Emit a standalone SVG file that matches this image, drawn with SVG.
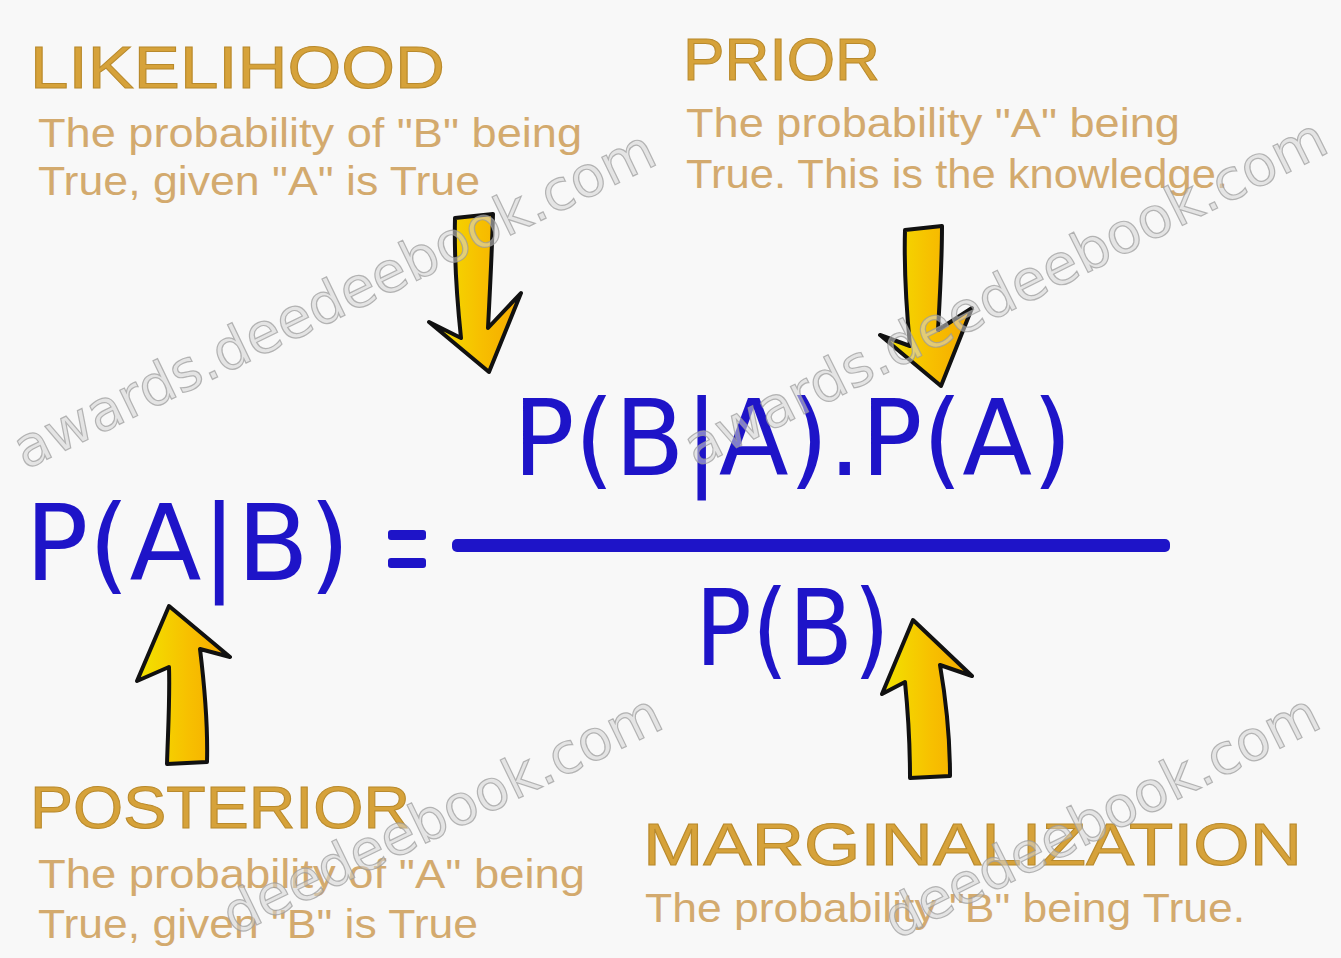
<svg xmlns="http://www.w3.org/2000/svg" width="1341" height="958" viewBox="0 0 1341 958">
  <defs>
    <linearGradient id="arrowFill" x1="0" y1="0" x2="1" y2="0">
      <stop offset="0" stop-color="#f2e400"/>
      <stop offset="0.55" stop-color="#f7c000"/>
      <stop offset="1" stop-color="#f5a800"/>
    </linearGradient>
  </defs>
  <style>
    .head { font-family: "Liberation Sans", "DejaVu Sans", sans-serif; font-size: 60px; fill: #d6a23a; stroke: #b98a2c; stroke-width: 1; }
    .body { font-family: "Liberation Sans", "DejaVu Sans", sans-serif; font-size: 40px; fill: #d3aa6e; }
    .math { font-family: "DejaVu Sans", "Liberation Sans", sans-serif; font-size: 105px; fill: #1e14c8; }
    .arrow { fill: url(#arrowFill); stroke: #111; stroke-width: 4; stroke-linejoin: round; }
    .wm { font-family: "DejaVu Sans", "Liberation Sans", sans-serif; font-size: 56px; fill: #d4d4d4; fill-opacity: 0.55; stroke: #9a9a9a; stroke-width: 1.2; stroke-opacity: 0.7; }
  </style>
  <rect width="1341" height="958" fill="#f8f8f8"/>

  <g id="likelihood">
    <text class="head" x="30" y="88" textLength="415" lengthAdjust="spacingAndGlyphs">LIKELIHOOD</text>
    <text class="body" x="38" y="147" textLength="544" lengthAdjust="spacingAndGlyphs">The probability of "B" being</text>
    <text class="body" x="38" y="195" textLength="442" lengthAdjust="spacingAndGlyphs">True, given "A" is True</text>
  </g>

  <g id="prior">
    <text class="head" x="683" y="80" textLength="197" lengthAdjust="spacingAndGlyphs">PRIOR</text>
    <text class="body" x="686" y="137" textLength="494" lengthAdjust="spacingAndGlyphs">The probability "A" being</text>
    <text class="body" x="686" y="188" textLength="542" lengthAdjust="spacingAndGlyphs">True. This is the knowledge.</text>
  </g>

  <g id="posterior">
    <text class="head" x="30" y="828" textLength="380" lengthAdjust="spacingAndGlyphs">POSTERIOR</text>
    <text class="body" x="38" y="888" textLength="547" lengthAdjust="spacingAndGlyphs">The probability of "A" being</text>
    <text class="body" x="38" y="938" textLength="440" lengthAdjust="spacingAndGlyphs">True, given "B" is True</text>
  </g>

  <g id="marginalization">
    <text class="head" x="643" y="865" textLength="659" lengthAdjust="spacingAndGlyphs">MARGINALIZATION</text>
    <text class="body" x="645" y="922" textLength="600" lengthAdjust="spacingAndGlyphs">The probability "B" being True.</text>
  </g>

  <g id="posterior-term">
    <text class="math" x="25" y="580" textLength="325" lengthAdjust="spacingAndGlyphs">P(A|B)</text>
  </g>
  <g id="equals">
    <rect x="388" y="530" width="38" height="10" rx="3" fill="#1e14c8"/>
    <rect x="388" y="558" width="38" height="10" rx="3" fill="#1e14c8"/>
  </g>
  <g id="numerator">
    <text class="math" x="513" y="475" textLength="559" lengthAdjust="spacingAndGlyphs">P(B|A).P(A)</text>
  </g>
  <g id="fraction-bar">
    <rect x="452" y="539" width="718" height="13" rx="5" fill="#1e14c8"/>
  </g>
  <g id="denominator">
    <text class="math" x="695" y="665" textLength="195" lengthAdjust="spacingAndGlyphs">P(B)</text>
  </g>

  <g id="connectors">
    <path class="arrow" d="M455,218 L493,214 C492,250 490,290 488,328 L521,293 L489,372 L429,322 L461,338 C457,300 454,260 455,218 Z"/>
    <path class="arrow" d="M905,230 L942,226 C942,262 940,296 938,330 L972,308 L941,386 L880,335 L910,346 C906,305 904,266 905,230 Z"/>
    <path class="arrow" d="M169,606 L230,657 L200,649 C205,690 208,725 207,762 L167,764 C168,730 170,700 169,667 L137,681 Z"/>
    <path class="arrow" d="M913,620 L972,676 L940,665 C946,700 950,740 950,776 L910,778 C910,745 908,712 905,682 L882,694 Z"/>
  </g>

  <g id="watermarks">
    <text class="wm" transform="translate(25,470) rotate(-25.8)" textLength="705" lengthAdjust="spacingAndGlyphs">awards.deedeebook.com</text>
    <text class="wm" transform="translate(696,468) rotate(-26.5)" textLength="710" lengthAdjust="spacingAndGlyphs">awards.deedeebook.com</text>
    <text class="wm" transform="translate(234,936) rotate(-25.8)" textLength="480" lengthAdjust="spacingAndGlyphs">deedeebook.com</text>
    <text class="wm" transform="translate(896,940) rotate(-26.5)" textLength="478" lengthAdjust="spacingAndGlyphs">deedeebook.com</text>
  </g>
</svg>
